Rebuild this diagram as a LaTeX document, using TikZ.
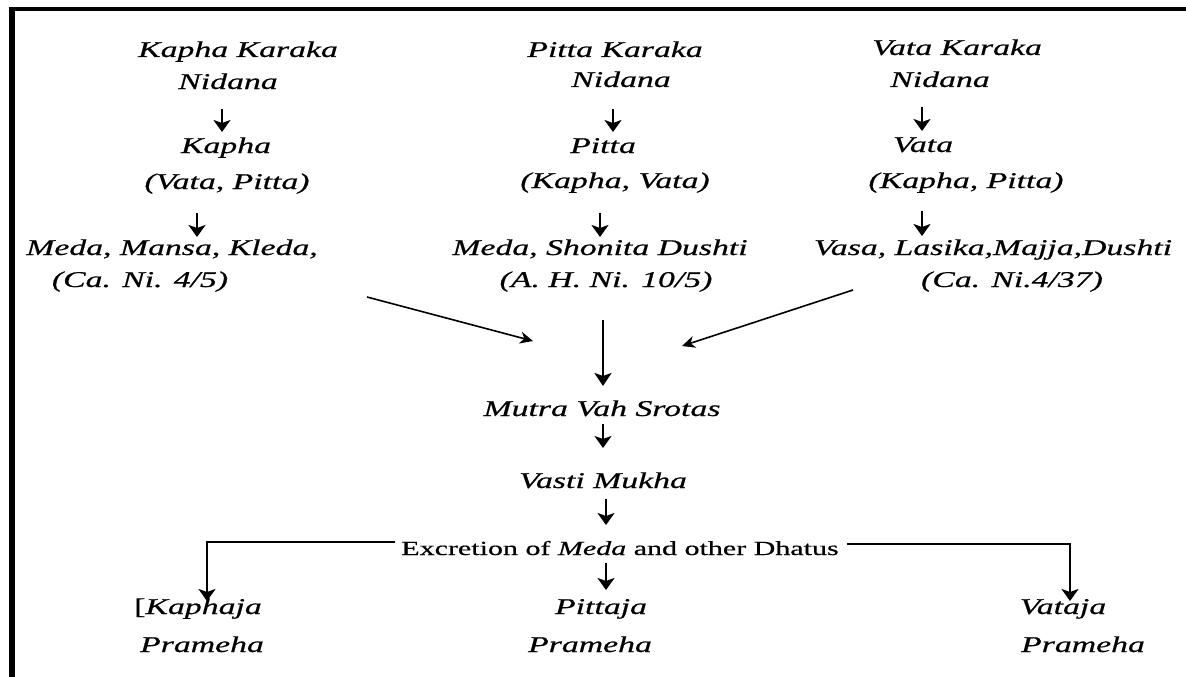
\documentclass[tikz,border=0pt]{standalone}
\usepackage{fontspec}
\setmainfont{Liberation Serif}[FakeStretch=1.5,FakeBold=0.6]
\usetikzlibrary{arrows.meta}
\begin{document}
\begin{tikzpicture}[x=1pt,y=-1pt,
  lbl/.style={inner sep=0pt,anchor=base,font=\fontsize{22.5}{26}\selectfont\itshape},
  plain/.style={inner sep=0pt,anchor=base,font=\fontsize{20}{24}\selectfont},
  smallarr/.style={line width=2.4pt,-{Stealth[length=12pt,width=17pt,inset=3pt]}},
  diagarr/.style={line width=1.6pt,-{Stealth[length=13pt,width=12pt,inset=4pt]}},
  bigarr/.style={line width=2.8pt,-{Stealth[length=13pt,width=17pt,inset=3pt]}},
  elbarr/.style={line width=2.2pt,-{Stealth[length=12pt,width=17pt,inset=3pt]}}]
\useasboundingbox (0,0) rectangle (1186,677);
\fill[white] (0,0) rectangle (1186,677);
\fill[black] (9,7) rectangle (1186,11);
\fill[black] (9,7) rectangle (15,677);
% column Kapha
\node[lbl] (kk) at (238,57) {Kapha Karaka};
\node[lbl] (kn) at (228,89) {Nidana};
\node[lbl] (kv) at (226,153) {Kapha};
\node[lbl] (kd) at (227,189) {(Vata, Pitta)};
\node[lbl] (km) at (172,255) {Meda, Mansa, Kleda,};
\node[lbl] (kr) at (140,287) {(Ca. Ni. 4/5)};
% column Pitta
\node[lbl] (pk) at (615,57) {Pitta Karaka};
\node[lbl] (pn) at (621,87) {Nidana};
\node[lbl] (pv) at (603,153) {Pitta};
\node[lbl] (pd) at (615,188) {(Kapha, Vata)};
\node[lbl] (pm) at (600,255) {Meda, Shonita Dushti};
\node[lbl] (pr) at (606,287) {(A. H. Ni. 10/5)};
% column Vata
\node[lbl] (vk) at (957,55) {Vata Karaka};
\node[lbl] (vn) at (940,87) {Nidana};
\node[lbl] (vv) at (923,152) {Vata};
\node[lbl] (vd) at (966,188) {(Kapha, Pitta)};
\node[lbl] (vm) at (993,255) {Vasa, Lasika,Majja,Dushti};
\node[lbl] (vr) at (1012,287) {(Ca. Ni.4/37)};
% lower part
\node[lbl] (ms) at (602,416) {Mutra Vah Srotas};
\node[lbl] (vm2) at (603,488) {Vasti Mukha};
\node[plain] (ex) at (620,555) {Excretion of \textit{Meda} and other Dhatus};
\node[lbl] (kj) at (198,614) {\textup{[}Kaphaja};
\node[lbl] (kp) at (202,652) {Prameha};
\node[lbl] (pj) at (601,614) {Pittaja};
\node[lbl] (pp) at (590,652) {Prameha};
\node[lbl] (vj) at (1063,614) {Vataja};
\node[lbl] (vp) at (1083,652) {Prameha};
% arrow end points
\coordinate (a1s) at (222,109); \coordinate (a1e) at (222,132);
\coordinate (a2s) at (197,213); \coordinate (a2e) at (197,237);
\coordinate (a3s) at (613,109); \coordinate (a3e) at (613,132);
\coordinate (a4s) at (600,213); \coordinate (a4e) at (600,237);
\coordinate (a5s) at (922,107); \coordinate (a5e) at (922,131);
\coordinate (a6s) at (922,211); \coordinate (a6e) at (922,236);
\coordinate (dls) at (367,297); \coordinate (dle) at (533,341);
\coordinate (drs) at (853,290); \coordinate (dre) at (682,346);
\coordinate (cs) at (603,320); \coordinate (ce) at (603,386);
\coordinate (m1s) at (603,424); \coordinate (m1e) at (603,448);
\coordinate (m2s) at (606,499); \coordinate (m2e) at (606,525);
\coordinate (m3s) at (606,563); \coordinate (m3e) at (606,590);
\coordinate (el) at ([xshift=-6pt,yshift=6pt]ex.west);
\coordinate (er) at ([xshift=8pt,yshift=4pt]ex.east);
\coordinate (elt) at (207,601);
\coordinate (ert) at (1070,601);
\draw[smallarr] (a1s) -- (a1e);
\draw[smallarr] (a2s) -- (a2e);
\draw[smallarr] (a3s) -- (a3e);
\draw[smallarr] (a4s) -- (a4e);
\draw[smallarr] (a5s) -- (a5e);
\draw[smallarr] (a6s) -- (a6e);
\draw[diagarr] (dls) -- (dle);
\draw[diagarr] (drs) -- (dre);
\draw[bigarr] (cs) -- (ce);
\draw[smallarr] (m1s) -- (m1e);
\draw[smallarr] (m2s) -- (m2e);
\draw[smallarr] (m3s) -- (m3e);
\draw[elbarr] (el) -| (elt);
\draw[elbarr] (er) -| (ert);
\end{tikzpicture}
\end{document}
